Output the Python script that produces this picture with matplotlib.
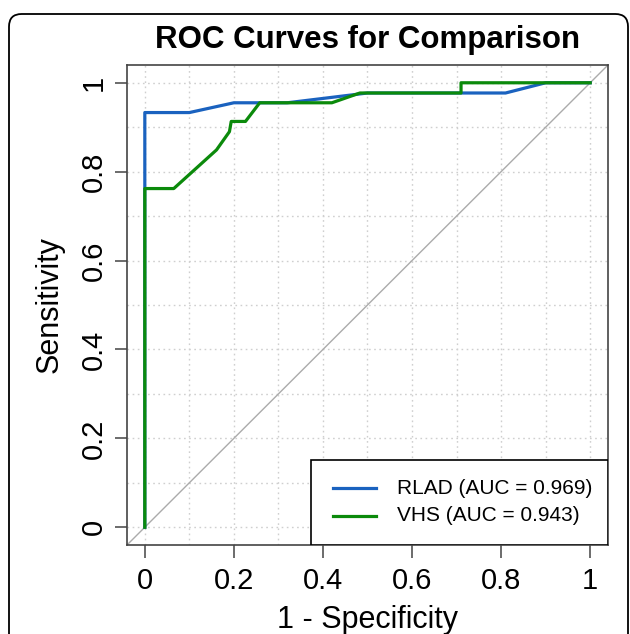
import matplotlib
matplotlib.use("Agg")
import matplotlib.pyplot as plt
from matplotlib.patches import FancyBboxPatch, Rectangle

plt.rcParams['font.family'] = ['Liberation Sans', 'DejaVu Sans']

# curvas ROC
rlad_fpr = [0, 0, 0.1, 0.2, 0.32, 0.5, 0.81, 0.9, 1.0]
rlad_tpr = [0, 0.933, 0.933, 0.955, 0.955, 0.977, 0.977, 1.0, 1.0]

vhs_fpr = [0, 0, 0.065, 0.161, 0.19, 0.194, 0.226, 0.258, 0.42, 0.483, 0.71, 0.71, 1.0]
vhs_tpr = [0, 0.762, 0.762, 0.849, 0.89, 0.913, 0.913, 0.955, 0.955, 0.977, 0.977, 1.0, 1.0]

nomes = ['RLAD (AUC = 0.969)', 'VHS (AUC = 0.943)']
cores = ['#1a62bf', '#0b8a0b']
ticks = [0, 0.2, 0.4, 0.6, 0.8, 1]
tick_labels = ['0', '0.2', '0.4', '0.6', '0.8', '1']

W, H = 630, 634
fig = plt.figure(figsize=(W / 100, H / 100), dpi=100)

# moldura arredondada em volta da figura
borda = FancyBboxPatch((9 / W, -0.05), 619 / W, 1 - 14 / H + 0.05,
                       boxstyle="round,pad=0,rounding_size=0.02",
                       transform=fig.transFigure, fill=False,
                       edgecolor='black', linewidth=1.3)
fig.patches.append(borda)

left, right, top, bottom = 127, 608, 65, 545
ax = fig.add_axes([left / W, 1 - bottom / H, (right - left) / W, (bottom - top) / H])

ax.set_xlim(-0.04, 1.04)
ax.set_ylim(-0.04, 1.04)

# grade pontilhada
for v in [i / 10 for i in range(11)]:
    ax.axvline(v, color='#cfcfcf', linestyle=(0, (1.2, 2.5)), linewidth=1, zorder=0)
    ax.axhline(v, color='#cfcfcf', linestyle=(0, (1.2, 2.5)), linewidth=1, zorder=0)

ax.plot([-0.04, 1.04], [-0.04, 1.04], color='#ababab', linewidth=1, zorder=1)
ax.plot(rlad_fpr, rlad_tpr, color=cores[0], linewidth=2.3, zorder=2)
ax.plot(vhs_fpr, vhs_tpr, color=cores[1], linewidth=2.3, zorder=3)

for s in ax.spines.values():
    s.set_color('#444444')
    s.set_linewidth(1.2)

ax.set_xticks(ticks)
ax.set_xticklabels(tick_labels)
ax.set_yticks(ticks)
ax.set_yticklabels(tick_labels, rotation=90, va='center')
ax.tick_params(length=9, width=1.1, color='#444444', labelsize=21, pad=5)
ax.tick_params(axis='x', pad=7)

ax.set_title('ROC Curves for Comparison', fontsize=22.5, fontweight='bold', pad=12)
ax.set_xlabel('1 - Specificity', fontsize=22, labelpad=7)
ax.set_ylabel('Sensitivity', fontsize=22, labelpad=11)

# legenda desenhada a mao
ax.add_patch(Rectangle((0.3825, 0.0), 1 - 0.3825, 0.177, transform=ax.transAxes,
                       facecolor='white', edgecolor='black', linewidth=1.2, zorder=5))
for i, (nome, cor) in enumerate(zip(nomes, cores)):
    y = 0.11875 - i * 0.0583
    ax.plot([0.4283, 0.5177], [y, y], color=cor, linewidth=2.3,
            transform=ax.transAxes, zorder=6)
    ax.text(0.5613, y, nome, transform=ax.transAxes, fontsize=15,
            va='center', ha='left', zorder=6)

fig.savefig('out.png', dpi=100)
